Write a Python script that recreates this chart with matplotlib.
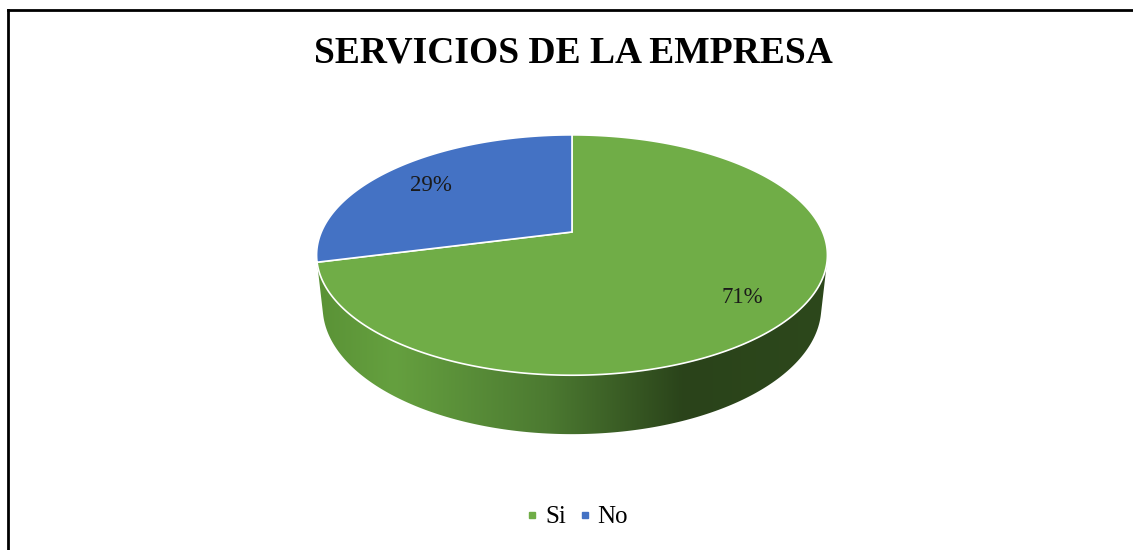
import numpy as np
import matplotlib
matplotlib.use("Agg")
import matplotlib.pyplot as plt
from matplotlib.colors import LinearSegmentedColormap
from matplotlib.patches import Polygon
from matplotlib.lines import Line2D

# data
labels = ["Si", "No"]
values = [71, 29]
colors = ["#70AD47", "#4472C4"]
title = "SERVICIOS DE LA EMPRESA"

plt.rcParams['font.family'] = ['Liberation Serif', 'DejaVu Serif']

W, H = 1133, 550
fig = plt.figure(figsize=(W / 100, H / 100), dpi=100)
ax = fig.add_axes([0, 0, 1, 1])

# pixel mapping for the projected pie
S = 1158.0
cx, cy = 572.0, 232.0
ax.set_xlim(-cx / S, (W - cx) / S)
ax.set_ylim(-(H - cy) / S, cy / S)
ax.axis("off")

# simple perspective camera looking down at the disk
alpha = np.radians(27.5)
L = 4.62
depth = 0.2355
ca, sa = np.cos(alpha), np.sin(alpha)


def proj(phi, y=0.0, rho=1.0):
    x = rho * np.cos(phi)
    s = rho * np.sin(phi)
    d = L + s * ca - y * sa
    return x / d, (y * ca + s * sa) / d


# slice angles, first slice clockwise from 12 o'clock
total = float(sum(values))
angles = []
start = np.pi / 2
for v in values:
    sweep = 2 * np.pi * v / total
    angles.append((start - sweep, start))
    start -= sweep

# side wall (only the part that faces the camera)
vis_lo = np.pi + np.arcsin(1.0 / (L * ca))
vis_hi = 2 * np.pi - np.arcsin(1.0 / (L * ca))
side_cmaps = [
    LinearSegmentedColormap.from_list(
        "side_g", [(0, "#5a9236"), (0.15, "#65a03f"), (0.45, "#4c7a31"),
                   (0.72, "#2a431a"), (1.0, "#2d481c")]),
    LinearSegmentedColormap.from_list("side_b", ["#3a62a8", "#223c6a"]),
]

for (a0, a1), cm in zip(angles, side_cmaps):
    lo = a0 % (2 * np.pi)
    hi = lo + (a1 - a0)
    for off in (0, -2 * np.pi, 2 * np.pi):
        s0 = max(lo + off, vis_lo)
        s1 = min(hi + off, vis_hi)
        if s1 <= s0:
            continue
        ph = np.linspace(s0, s1, 200)
        tx, ty = proj(ph, 0.0)
        bx, by = proj(ph[::-1], -depth)
        pts = np.column_stack([np.r_[tx, bx], np.r_[ty, by]])
        poly = Polygon(pts, closed=True, facecolor="none", edgecolor="none")
        ax.add_patch(poly)
        fx0, fx1 = proj(vis_lo)[0], proj(vis_hi)[0]
        grad = np.linspace(0, 1, 256).reshape(1, -1)
        im = ax.imshow(grad, cmap=cm, aspect="auto",
                       extent=[fx0, fx1, by.min() - 0.01, ty.max() + 0.01],
                       zorder=1, interpolation="bilinear")
        im.set_clip_path(poly)

ax.set_xlim(-cx / S, (W - cx) / S)
ax.set_ylim(-(H - cy) / S, cy / S)

# top faces
for (a0, a1), col in zip(angles, colors):
    ph = np.linspace(a0, a1, 300)
    x, y = proj(ph)
    pts = np.column_stack([np.r_[0, x], np.r_[0, y]])
    ax.add_patch(Polygon(pts, closed=True, facecolor=col, edgecolor="white",
                         linewidth=1.2, zorder=3))

# data labels
for (a0, a1), v in zip(angles, values):
    mid = (a0 + a1) / 2
    x, y = proj(mid, 0.0, 0.78)
    ax.text(x, y - 0.004, f"{v}%", ha="center", va="center", fontsize=16.5,
            color="#1a1a1a", zorder=5)

fig.text(0.506, 1 - 53 / H, title, ha="center", va="center",
         fontsize=27, fontweight="bold", color="black")

handles = [Line2D([], [], marker="s", linestyle="none", markersize=5,
                  markerfacecolor=c, markeredgecolor=c) for c in colors]
fig.legend(handles, labels, loc="center", bbox_to_anchor=(0.507, 1 - 517 / H),
           ncol=2, frameon=False, fontsize=18, handletextpad=0.05,
           columnspacing=0.3, handlelength=0.9)

# chart frame (top and left edges visible)
fig.add_artist(Line2D([7.5 / W, 7.5 / W], [0, 1 - 9.5 / H], color="black",
                      linewidth=2, transform=fig.transFigure))
fig.add_artist(Line2D([7.5 / W, 1], [1 - 9.5 / H, 1 - 9.5 / H], color="black",
                      linewidth=2, transform=fig.transFigure))

fig.savefig("out.png", dpi=100, facecolor="white")
